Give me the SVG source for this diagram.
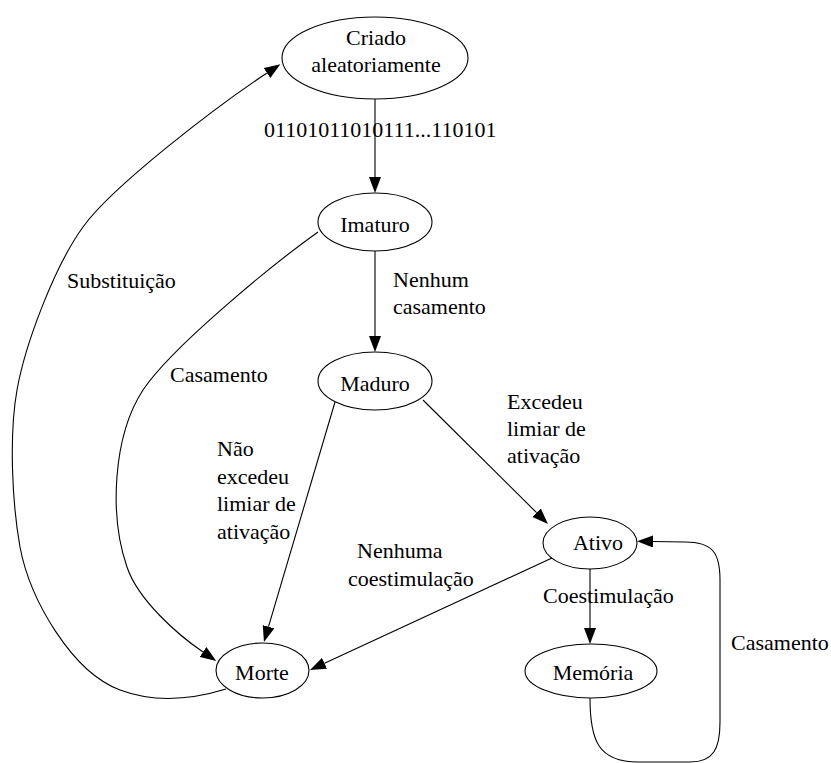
<svg xmlns="http://www.w3.org/2000/svg" width="831" height="763" viewBox="0 0 831 763" font-family="'Liberation Serif', 'Times New Roman', serif">
<defs>
<marker id="arr" viewBox="0 0 16 12" markerWidth="16" markerHeight="12" refX="0" refY="6" orient="auto" markerUnits="userSpaceOnUse">
<path d="M0,0 L16,6 L0,12 z" fill="#000"/>
</marker>
<style>
.node ellipse{fill:#fff;stroke:#000;stroke-width:1.1}
text{font-family:'Liberation Serif','Times New Roman',serif;font-size:22px;fill:#000}
.c{text-anchor:middle}
.edges path{fill:none;stroke:#000;stroke-width:1.1;marker-end:url(#arr)}
</style>
</defs>
<rect width="831" height="763" fill="#fff"/>
<g class="edges" id="edges">
<path d="M375,99 L375,177"/>
<path d="M375,251 L375,336"/>
<path d="M423,400 L536.6,512.7"/>
<path d="M335,402 L268.5,626.7"/>
<path d="M552,558 L324.5,663.3"/>
<path d="M590,569 L590,628"/>
<path d="M590,698 C590,740 598,762 638,762 L690,762 C714,762 720,748 720,722 L720,580 C720,552 712,542 685,542 L653,541.5"/>
<path d="M318,232 C269,267 170.5,348.5 143,390 C113,436 109,515 127,567 C138,600 178,635 203,652"/>
<path d="M226,689 C200,697 160,705 120,690 C72,672 30,600 20,547 C12,502 9,435 17,390 C25,345 54,267 83,227 C112,186.5 217,106 267,73"/>
</g>
<g id="edge-labels">
<text x="264" y="137">01101011010111...110101</text>
<text x="393" y="287">Nenhum</text>
<text x="393" y="314">casamento</text>
<text x="507" y="409">Excedeu</text>
<text x="507" y="436">limiar de</text>
<text x="507" y="463">ativação</text>
<text x="67" y="288">Substituição</text>
<text x="170" y="382">Casamento</text>
<text x="217" y="456">Não</text>
<text x="217" y="484">excedeu</text>
<text x="217" y="511">limiar de</text>
<text x="217" y="539">ativação</text>
<text x="357" y="558">Nenhuma</text>
<text x="348" y="586">coestimulação</text>
<text x="543" y="603">Coestimulação</text>
<text x="731" y="650">Casamento</text>
</g>
<g class="node" id="criado">
<ellipse cx="375" cy="58" rx="93" ry="41"/>
<text class="c" x="376" y="45">Criado</text>
<text class="c" x="376" y="72">aleatoriamente</text>
</g>
<g class="node" id="imaturo">
<ellipse cx="375" cy="222" rx="57" ry="29"/>
<text class="c" x="375" y="232">Imaturo</text>
</g>
<g class="node" id="maduro">
<ellipse cx="375" cy="381" rx="57" ry="29"/>
<text class="c" x="375" y="391">Maduro</text>
</g>
<g class="node" id="ativo">
<ellipse cx="590" cy="543" rx="47" ry="26"/>
<text class="c" x="598" y="550">Ativo</text>
</g>
<g class="node" id="memoria">
<ellipse cx="591" cy="671" rx="66" ry="27"/>
<text class="c" x="593" y="680">Memória</text>
</g>
<g class="node" id="morte">
<ellipse cx="262.5" cy="670.5" rx="46.5" ry="27.5"/>
<text class="c" x="262" y="680">Morte</text>
</g>
</svg>
